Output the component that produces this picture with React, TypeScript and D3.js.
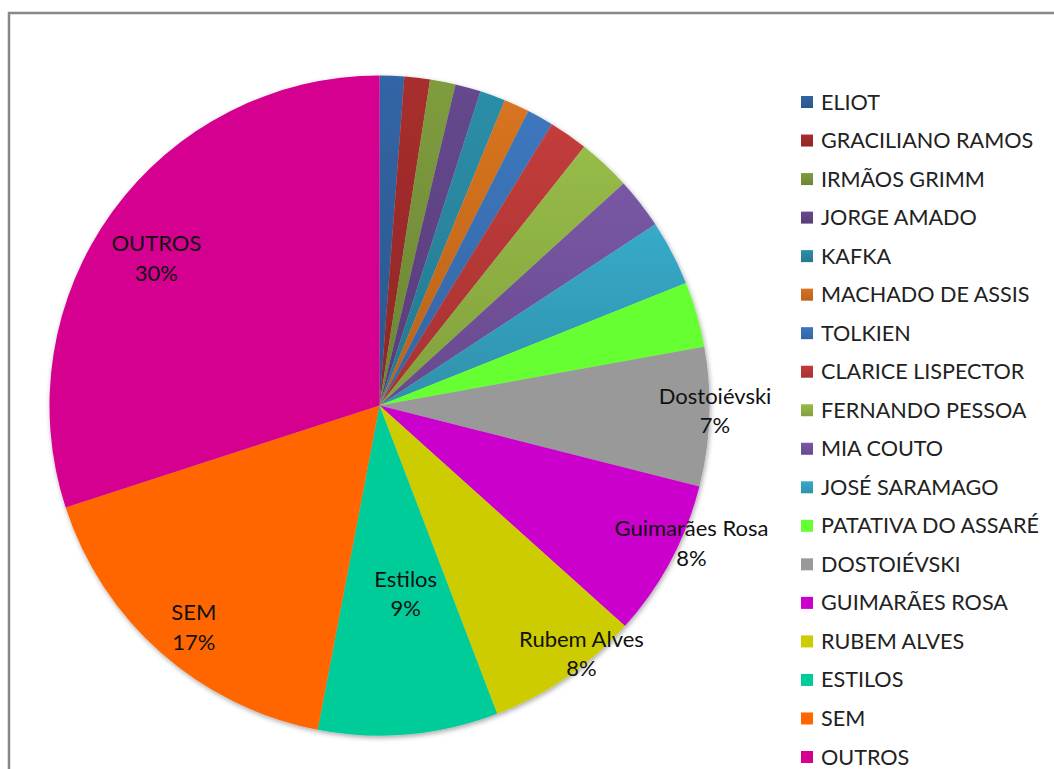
import React from "react";
import * as d3 from "d3";

const categories = [
  "ELIOT", "GRACILIANO RAMOS", "IRMÃOS GRIMM", "JORGE AMADO", "KAFKA",
  "MACHADO DE ASSIS", "TOLKIEN", "CLARICE LISPECTOR", "FERNANDO PESSOA",
  "MIA COUTO", "JOSÉ SARAMAGO", "PATATIVA DO ASSARÉ", "DOSTOIÉVSKI",
  "GUIMARÃES ROSA", "RUBEM ALVES", "ESTILOS", "SEM", "OUTROS",
];
const values = [
  1.2, 1.25, 1.25, 1.25, 1.25, 1.25, 1.3, 1.9, 2.6,
  2.5, 3.2, 3.2, 6.8, 7.7, 7.55, 8.8, 17.0, 30.0,
];
// data labels shown inside/near slices (slice name -> label text)
const sliceLabels: Record<string, string> = {
  "DOSTOIÉVSKI": "Dostoiévski",
  "GUIMARÃES ROSA": "Guimarães Rosa",
  "RUBEM ALVES": "Rubem Alves",
  "ESTILOS": "Estilos",
  "SEM": "SEM",
  "OUTROS": "OUTROS",
};

// styling
const topColors = [
  "#3265a5", "#a82e2d", "#7f9c3e", "#66488e", "#2c8ea8", "#d87420",
  "#3d77be", "#c33c3b", "#97bc48", "#7957a5", "#37aac9",
  "#66ff33", "#999999", "#cc00cc", "#cccc00", "#00cc99", "#ff6600", "#d5008f",
];
const gradientCount = 11; // theme-styled slices with gradient
const labelPlacement: Record<string, { r: number; da: number }> = {
  "DOSTOIÉVSKI": { r: 1.017, da: -1 },
  "GUIMARÃES ROSA": { r: 1.034, da: -4.2 },
  "RUBEM ALVES": { r: 0.971, da: -4.6 },
  "ESTILOS": { r: 0.578, da: -2.85 },
  "SEM": { r: 0.877, da: -1.5 },
  "OUTROS": { r: 0.809, da: -2.7 },
};

const W = 1054;
const H = 769;
const cx = 379.5;
const cy = 405.5;
const R = 330;
const FONT = "Lato, 'Open Sans', sans-serif";

export default function App() {
  const total = d3.sum(values);
  const pie = d3
    .pie<number>()
    .sort(null)
    .value((d) => d)
    .startAngle(0)
    .endAngle(2 * Math.PI);
  const arcs = pie(values);
  const arcGen = d3.arc<d3.PieArcDatum<number>>().innerRadius(0).outerRadius(R);

  const legendY = d3
    .scalePoint<string>()
    .domain(categories)
    .range([102, 757]);

  return (
    <svg
      width={W}
      height={H}
      style={{ position: "absolute", left: 0, top: 0, background: "#fff" }}
    >
      <defs>
        <filter id="shadow" x="-10%" y="-10%" width="120%" height="120%">
          <feDropShadow dx="1" dy="2" stdDeviation="2.5" floodColor="#000" floodOpacity="0.35" />
        </filter>
        {topColors.map((c, i) =>
          i < gradientCount ? (
            <linearGradient key={i} id={`g${i}`} x1="0" y1="0" x2="0" y2="1">
              <stop offset="0%" stopColor={c} />
              <stop offset="100%" stopColor={d3.color(c)!.darker(0.45).formatHex()} />
            </linearGradient>
          ) : null
        )}
      </defs>
      <rect x={9} y={13} width={1100} height={800} fill="#fff" stroke="#888" strokeWidth={2.5} />
      <g transform={`translate(${cx},${cy})`}>
        <g filter="url(#shadow)">
          {arcs.map((a, i) => (
            <path
              key={categories[i]}
              d={arcGen(a) || ""}
              fill={i < gradientCount ? `url(#g${i})` : topColors[i]}
            />
          ))}
        </g>
        {arcs.map((a, i) => {
          const name = categories[i];
          const lab = sliceLabels[name];
          if (!lab) return null;
          const p = labelPlacement[name];
          const ang = (a.startAngle + a.endAngle) / 2 + (p.da * Math.PI) / 180;
          const x = Math.sin(ang) * R * p.r;
          const y = -Math.cos(ang) * R * p.r;
          const pct = Math.round((a.data / total) * 100) + "%";
          return (
            <text
              key={name}
              x={x}
              y={y}
              textAnchor="middle"
              fontFamily={FONT}
              fontSize={22}
              fill="#111"
            >
              <tspan x={x} dy={-7.5}>{lab}</tspan>
              <tspan x={x} dy={29.5}>{pct}</tspan>
            </text>
          );
        })}
      </g>
      <g>
        {categories.map((c, i) => {
          const y = legendY(c)!;
          return (
            <g key={c}>
              <rect
                x={801}
                y={y - 6}
                width={12}
                height={12}
                fill={i < gradientCount ? `url(#g${i})` : topColors[i]}
              />
              <text
                x={821}
                y={y + 7.5}
                fontFamily={FONT}
                fontSize={21.6}
                fill="#222"
              >
                {c}
              </text>
            </g>
          );
        })}
      </g>
    </svg>
  );
}
